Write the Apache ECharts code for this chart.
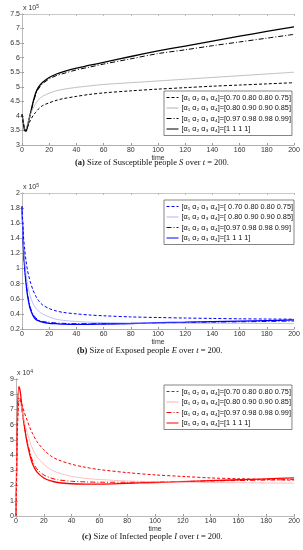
<!DOCTYPE html>
<html><head><meta charset="utf-8">
<script src="https://cdn.jsdelivr.net/npm/echarts@6/dist/echarts.min.js"></script>
<style>html,body{margin:0;padding:0;background:#fff}#c{width:303px;height:550px}</style>
</head><body><div id="c"></div>
<script>
// time points
const times = [0,1,2,3,4,5,6,8,10,12,15,20,25,30,40,50,60,80,100,120,140,160,180,200];
// S(t) x10^5
const S_a = [4.05,3.75,3.52,3.52,3.6,3.72,3.83,4.0,4.12,4.23,4.35,4.45,4.53,4.59,4.67,4.74,4.79,4.86,4.92,4.97,5.02,5.06,5.1,5.14];
const S_b = [4.05,3.75,3.52,3.55,3.7,3.87,4.02,4.25,4.42,4.55,4.67,4.78,4.86,4.91,4.98,5.03,5.08,5.14,5.2,5.26,5.32,5.38,5.44,5.5];
const S_c = [4.05,3.75,3.5,3.48,3.64,3.83,4.02,4.4,4.72,4.92,5.1,5.27,5.38,5.45,5.58,5.68,5.78,5.96,6.14,6.27,6.41,6.54,6.67,6.8];
const S_d = [4.05,3.75,3.5,3.48,3.65,3.85,4.05,4.45,4.78,4.98,5.15,5.32,5.43,5.51,5.64,5.74,5.84,6.04,6.23,6.4,6.57,6.74,6.9,7.06];
// E(t) x10^5
const E_a = [1.82,1.45,1.25,1.1,0.98,0.9,0.83,0.72,0.64,0.58,0.52,0.47,0.44,0.42,0.4,0.385,0.375,0.36,0.352,0.345,0.34,0.335,0.332,0.33];
const E_b = [1.82,1.35,1.1,0.92,0.8,0.71,0.64,0.54,0.48,0.44,0.4,0.36,0.33,0.315,0.3,0.29,0.285,0.28,0.278,0.276,0.275,0.274,0.273,0.272];
const E_c = [1.82,1.3,1.0,0.81,0.67,0.57,0.49,0.4,0.35,0.32,0.3,0.29,0.28,0.275,0.27,0.27,0.27,0.272,0.28,0.285,0.29,0.295,0.3,0.305];
const E_d = [1.82,1.3,1.0,0.8,0.65,0.55,0.47,0.38,0.33,0.31,0.29,0.275,0.27,0.265,0.262,0.263,0.266,0.273,0.283,0.29,0.298,0.305,0.312,0.32];
// I(t) x10^4
const I_a = [0,5.5,7.5,7.6,7.4,7.1,6.8,6.3,5.8,5.4,4.9,4.35,3.95,3.7,3.4,3.2,3.05,2.85,2.7,2.6,2.5,2.45,2.4,2.35];
const I_b = [0,5.8,7.5,7.5,7.1,6.6,6.2,5.5,4.9,4.4,3.9,3.4,3.05,2.85,2.6,2.47,2.4,2.3,2.25,2.22,2.2,2.18,2.17,2.15];
const I_c = [0,6.2,7.8,7.7,7.1,6.5,5.9,4.9,4.2,3.6,3.1,2.7,2.5,2.38,2.28,2.24,2.22,2.22,2.24,2.27,2.3,2.33,2.36,2.4];
const I_d = [0,6.5,8.5,8.2,7.4,6.6,5.9,4.8,4.0,3.4,2.9,2.5,2.3,2.2,2.12,2.1,2.1,2.15,2.2,2.26,2.32,2.38,2.44,2.5];
// legend labels
const labels = ['[α₁ α₂ α₃ α₄]=[0.70 0.80 0.80 0.75]','[α₁ α₂ α₃ α₄]=[0.80 0.90 0.90 0.85]','[α₁ α₂ α₃ α₄]=[0.97 0.98 0.98 0.99]','[α₁ α₂ α₃ α₄]=[1 1 1 1]'];
const labelsE = ['[α₁ α₂ α₃ α₄]=[ 0.70 0.80 0.80 0.75]','[α₁ α₂ α₃ α₄]=[ 0.80 0.90 0.90 0.85]','[α₁ α₂ α₃ α₄]=[0.97 0.98 0.98 0.99]','[α₁ α₂ α₃ α₄]=[1 1 1 1]'];

const pair = v => times.map((t,i)=>[t,v[i]]);
const grids = [
  {left:22, top:14, width:272, height:131},
  {left:22, top:193, width:272, height:136},
  {left:16, top:379, width:278, height:137}
].map(g=>Object.assign(g,{containLabel:false, outerBoundsMode:'none'}));
const yCfg = [
  {min:3,max:7.5,interval:0.5,name:'S(t)'},
  {min:0.2,max:2,interval:0.2,name:'E(t)'},
  {min:0,max:9,interval:1,name:'I(t)'}
];
const axisGray = '#9a9a9a';
const tickFont = {fontFamily:'Liberation Sans', fontSize:7, color:'#333'};
const xAxis = [], yAxis = [];
grids.forEach((g,i)=>{
  xAxis.push({type:'value', gridIndex:i, min:0, max:200, interval:20, name:'time', nameLocation:'middle', nameGap:10,
    nameTextStyle:{fontFamily:'Liberation Sans', fontSize:7, color:'#333'},
    axisLine:{lineStyle:{color:axisGray,width:0.8}}, axisTick:{inside:true,length:2,lineStyle:{color:axisGray}},
    axisLabel:Object.assign({margin:2}, tickFont), splitLine:{show:false}});
  xAxis.push({type:'value', gridIndex:i, min:0, max:200, interval:20, position:'top',
    axisLine:{lineStyle:{color:'#bbb',width:0.8}}, axisTick:{inside:true,length:2,lineStyle:{color:'#bbb'}},
    axisLabel:{show:false}, splitLine:{show:false}});
  const c = yCfg[i];
  yAxis.push({type:'value', gridIndex:i, min:c.min, max:c.max, interval:c.interval, name:c.name, nameLocation:'middle', nameGap:i===2?9:13,
    nameTextStyle:{fontFamily:'Liberation Sans', fontSize:7, color:'#333'},
    axisLine:{lineStyle:{color:axisGray,width:0.8}}, axisTick:{inside:true,length:2,lineStyle:{color:axisGray}},
    axisLabel:Object.assign({margin:2}, tickFont), splitLine:{show:false}});
  yAxis.push({type:'value', gridIndex:i, min:c.min, max:c.max, interval:c.interval, position:'right',
    axisLine:{lineStyle:{color:'#bbb',width:0.8}}, axisTick:{inside:true,length:2,lineStyle:{color:'#bbb'}},
    axisLabel:{show:false}, splitLine:{show:false}});
});

const styles = [
  {type:[3,2], width:1},
  {type:'solid', width:0.8},
  {type:[5,2,1,2], width:1},
  {type:'solid', width:1.3}
];
const colorSets = [
  ['#000','#b0b0b0','#000','#000'],
  ['#0000ff','#aab0ff','#0000ff','#0000ff'],
  ['#ff0000','#ffb0b0','#ff0000','#ff0000']
];
const dataSets = [[S_a,S_b,S_c,S_d],[E_a,E_b,E_c,E_d],[I_a,I_b,I_c,I_d]];
const prefixes = ['S','E','I'];
const series = [];
dataSets.forEach((set,gi)=>{
  set.forEach((v,k)=>{
    series.push({type:'line', name:prefixes[gi]+k, xAxisIndex:gi*2, yAxisIndex:gi*2, data:pair(v),
      symbol:'none', smooth:0.3, color:colorSets[gi][k],
      lineStyle:{type:styles[k].type, width:styles[k].width, color:colorSets[gi][k]}, z: 10-k});
  });
});
const legendTops = [91,200,385];
const legend = prefixes.map((p,gi)=>({
  data:[0,1,2,3].map(k=>p+k), orient:'vertical', left:164, top:legendTops[gi],
  itemWidth:12, itemHeight:8, itemGap:3.5, padding:[3,1,3,2],
  backgroundColor:'#fff', borderColor:'#333', borderWidth:0.6,
  selectedMode:false,
  itemStyle:{opacity:0},
  lineStyle:{width:1},
  formatter: n => (gi===1?labelsE:labels)[+n.slice(1)],
  textStyle:{fontFamily:'Liberation Sans', fontSize:7.3, color:'#111', padding:[0,0,0,-2]}
}));
const capRich = {b:{fontWeight:'bold',fontFamily:'Liberation Serif',fontSize:8.5,color:'#111'},
  i:{fontStyle:'italic',fontFamily:'Liberation Serif',fontSize:8.5,color:'#111'}};
const titles = [
  {text:'{b|(a)} Size of Susceptible people {i|S} over {i|t} = 200.', left:75, top:158},
  {text:'{b|(b)} Size of Exposed people {i|E} over {i|t} = 200.', left:77, top:346},
  {text:'{b|(c)} Size of Infected people {i|I} over {i|t} = 200.', left:82, top:532}
].map(t=>Object.assign(t,{padding:0,textStyle:{fontFamily:'Liberation Serif',fontSize:8.5,fontWeight:'normal',color:'#111',rich:capRich}}));
const expRich = {s:{fontSize:5,fontFamily:'Liberation Sans',color:'#333',verticalAlign:'top',padding:[0,0,4,0]}};
[['x 10{s|5}',23,4],['x 10{s|5}',23,183],['x 10{s|4}',17,369]].forEach(a=>{
  titles.push({text:a[0], left:a[1], top:a[2], padding:0, textStyle:{fontFamily:'Liberation Sans',fontSize:7,fontWeight:'normal',color:'#333',rich:expRich}});
});

const chart = echarts.init(document.getElementById('c'), null, {renderer:'canvas'});
chart.setOption({animation:false, backgroundColor:'#fff', title:titles, grid:grids, xAxis, yAxis, legend, series});
</script></body></html>
